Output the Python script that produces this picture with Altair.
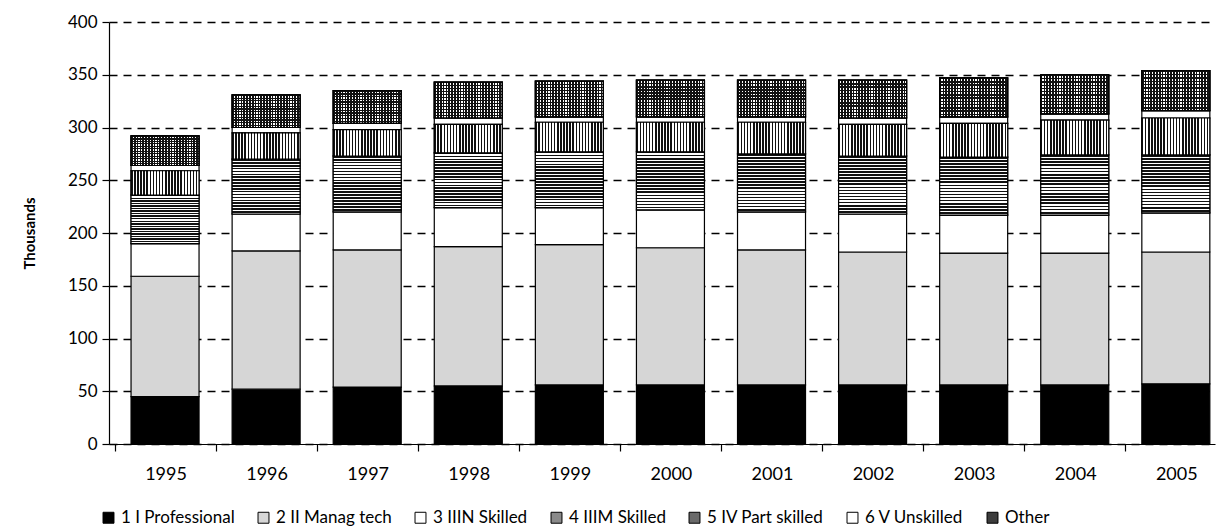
import altair as alt
import pandas as pd

years = list(range(1995, 2006))
categories = ["1 I Professional", "2 II Manag tech", "3 IIIN Skilled", "4 IIIM Skilled",
              "5 IV Part skilled", "6 V Unskilled", "Other"]
professional = [45, 52, 54, 55, 56, 56, 56, 56, 56, 56, 57]
manag_tech = [114, 131, 130, 132, 133, 130, 128, 126, 125, 125, 125]
iiin_skilled = [31, 35, 36, 37, 35, 36, 36, 36, 36, 36, 37]
iiim_skilled = [46, 52, 53, 52, 53, 55, 55, 55, 55, 57, 55]
iv_part_skilled = [23, 25, 25, 27, 28, 28, 30, 30, 32, 33, 35]
v_unskilled = [5, 5, 6, 6, 5, 5, 5, 6, 6, 6, 7]
other = [28, 31, 31, 34, 34, 35, 35, 36, 37, 37, 38]
y_ticks = list(range(0, 401, 50))

series = [professional, manag_tech, iiin_skilled, iiim_skilled, iv_part_skilled, v_unskilled, other]
rows = []
for ci, (cat, vals) in enumerate(zip(categories, series)):
    for y, v in zip(years, vals):
        rows.append({"year": y, "category": cat, "value": v, "order": ci})
df = pd.DataFrame(rows)

plain_colors = ["#000000", "#d6d6d6", "#ffffff", "#8a8a8a", "#6a6a6a", "#ffffff", "#3c3c3c"]


def stripes(n, dark, light, direction, frac=0.5):
    stops = []
    for i in range(n):
        a = round(i / n, 5)
        m = round((i + frac) / n, 5)
        b = round((i + 1) / n, 5)
        stops += [{"offset": a, "color": dark}, {"offset": m, "color": dark},
                  {"offset": m, "color": light}, {"offset": b, "color": light}]
    g = {"gradient": "linear", "stops": stops, "x1": 0, "y1": 0}
    if direction == "h":
        g.update({"x2": 0, "y2": 1})
    else:
        g.update({"x2": 1, "y2": 0})
    return g


FONT = "Lato"
BAR_W = 68

x_enc = alt.X(
    "year:Q",
    scale=alt.Scale(domain=[1994.495, 2005.338], nice=False, zero=False),
    axis=alt.Axis(
        values=[y - 0.5 for y in years],
        labelExpr="format(datum.value + 0.5, 'd')",
        labelOffset=51,
        labelFlush=False,
        labelOverlap=False,
        title=None,
        grid=False,
        domainColor="black",
        domainWidth=1.2,
        tickColor="black",
        tickSize=7,
        tickWidth=1.2,
        labelFontSize=18,
        labelFont=FONT,
        labelColor="black",
        labelPadding=14,
    ),
)
y_enc = alt.Y(
    "y0:Q",
    scale=alt.Scale(domain=[0, 400], nice=False),
    axis=alt.Axis(
        values=y_ticks,
        title="Thousands",
        titleFont=FONT,
        titleFontSize=15,
        titleFontWeight="bold",
        titleColor="black",
        titlePadding=30,
        grid=True,
        gridColor="black",
        gridDash=[8, 6],
        gridWidth=1.3,
        domainColor="black",
        domainWidth=1.2,
        tickColor="black",
        tickSize=7,
        tickWidth=1.2,
        labelFontSize=17,
        labelFont=FONT,
        labelColor="black",
        labelPadding=5,
    ),
)

base = alt.Chart(df).transform_stack(
    stack="value",
    groupby=["year"],
    as_=["y0", "y1"],
    sort=[alt.SortField("order", order="ascending")],
)

plain = base.mark_bar(width=BAR_W, stroke="black", strokeWidth=1.2).encode(
    x=x_enc,
    y=y_enc,
    y2="y1:Q",
    color=alt.Color(
        "category:N",
        scale=alt.Scale(domain=categories, range=plain_colors),
        legend=alt.Legend(
            title=None,
            orient="none",
            legendX=-9,
            legendY=487,
            direction="horizontal",
            symbolType="square",
            symbolSize=120,
            symbolStrokeColor="black",
            symbolStrokeWidth=1,
            labelFont=FONT,
            labelFontSize=17,
            labelColor="black",
            labelOffset=4,
            columnPadding=20,
        ),
    ),
)


def pattern_layer(cat, fill):
    return base.transform_filter(alt.datum.category == cat).mark_bar(
        width=BAR_W, fill=fill, stroke="black", strokeWidth=1.2
    ).encode(x=x_enc, y=y_enc, y2="y1:Q")


layer_iiim = pattern_layer("4 IIIM Skilled", stripes(19, "#111111", "#ffffff", "h", 0.55))
layer_iv = pattern_layer("5 IV Part skilled", stripes(22, "#111111", "#ffffff", "v"))
layer_other_v = pattern_layer("Other", stripes(24, "#111111", "#ffffff", "v", 0.6))
layer_other_h = pattern_layer("Other", stripes(12, "#111111", "rgba(0,0,0,0)", "h", 0.45))

chart = alt.layer(plain, layer_iiim, layer_iv, layer_other_v, layer_other_h).properties(
    width=1106,
    height=422,
    autosize=alt.AutoSizeParams(type="none"),
    padding={"left": 109, "top": 22, "right": 7, "bottom": 87},
    background="white",
).configure_view(strokeWidth=0)

chart.save("out.html", embed_options={"renderer": "svg", "actions": False})
